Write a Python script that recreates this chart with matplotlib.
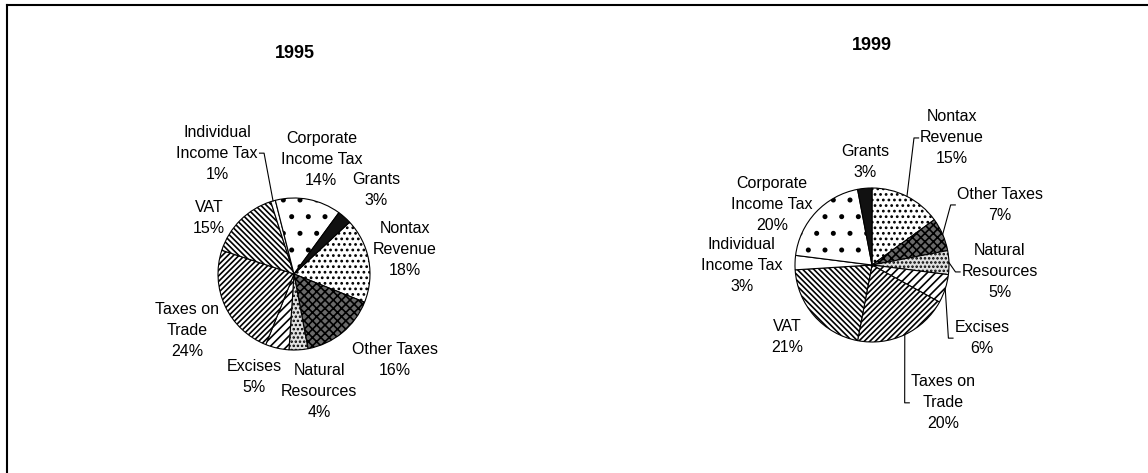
import matplotlib
matplotlib.use("Agg")
import matplotlib.pyplot as plt
import numpy as np

plt.rcParams['font.family'] = ['Liberation Sans', 'DejaVu Sans']
plt.rcParams['hatch.linewidth'] = 1.2
plt.rcParams['hatch.color'] = 'black'

# data (clockwise order as drawn)
categories = ['Nontax\nRevenue', 'Other Taxes', 'Natural\nResources', 'Excises',
              'Taxes on\nTrade', 'VAT', 'Individual\nIncome Tax',
              'Corporate\nIncome Tax', 'Grants']
share_1995 = [18, 16, 4, 5, 24, 15, 1, 14, 3]
share_1999 = [15, 7, 5, 6, 20, 21, 3, 20, 3]

# styling per category
faces = ['white', '#6a6a6a', '#e0e0e0', 'white', 'white', 'white', 'white', 'white', '#111111']
hatches = ['...', 'xxxx', '....', '////', '//////', '\\\\\\\\\\\\', '', '.', '']

W, H = 1148, 473
fig = plt.figure(figsize=(W / 100, H / 100), dpi=100)

# outer frame (top and left edges visible)
fig.add_artist(plt.Line2D([7 / W, 1], [1 - 5 / H, 1 - 5 / H], color='black', lw=1.5))
fig.add_artist(plt.Line2D([7 / W, 7 / W], [0, 1 - 5 / H], color='black', lw=1.5))

SPAN = 2.3


def make_axes(cx, cy, r):
    size = 2 * SPAN * r
    ax = fig.add_axes([(cx - SPAN * r) / W, 1 - (cy + SPAN * r) / H, size / W, size / H])
    return ax


def draw_pie(ax, values, start, label_pos, leaders, side):
    wedges, _ = ax.pie(values, startangle=start, counterclock=False, radius=1,
                       colors=faces, wedgeprops=dict(edgecolor='black', linewidth=0.8))
    ax.set_xlim(-SPAN, SPAN)
    ax.set_ylim(-SPAN, SPAN)
    ax.set_aspect('equal')
    ax.axis('off')
    for w, h in zip(wedges, hatches):
        w.set_hatch(h)
    texts = []
    for cat, v, (tx, ty) in zip(categories, values, label_pos):
        t = ax.text(tx, ty, f'{cat}\n{v}%', ha='center', va='center',
                    fontsize=11.5, linespacing=1.5)
        texts.append(t)
    fig.canvas.draw()
    inv = ax.transData.inverted()
    for i in leaders:
        w = wedges[i]
        mid = np.deg2rad((w.theta1 + w.theta2) / 2)
        ex, ey = np.cos(mid), np.sin(mid)
        bb = texts[i].get_window_extent()
        (x0, y0), (x1, y1) = inv.transform([[bb.x0, bb.y0], [bb.x1, bb.y1]])
        yc = (y0 + y1) / 2
        if side[i] == 'right':
            xa, xk = x1 + 0.02, x1 + 0.08
        else:
            xa, xk = x0 - 0.02, x0 - 0.08
        ax.plot([xa, xk, ex], [yc, yc, ey], color='black', lw=0.8)


# 1995
ax1 = make_axes(294, 274, 76)
pos_1995 = [(1.46, 0.32), (1.33, -1.13), (0.33, -1.55), (-0.52, -1.36),
            (-1.41, -0.74), (-1.12, 0.74), (-1.01, 1.59), (0.36, 1.50), (1.08, 1.11)]
draw_pie(ax1, share_1995, 43, pos_1995, [6], {6: 'right'})
fig.text(295 / W, 1 - 53 / H, '1995', ha='center', va='center', fontsize=13, fontweight='bold')

# 1999
ax2 = make_axes(872, 265, 77)
pos_1999 = [(1.04, 1.65), (1.66, 0.78), (1.66, -0.09), (1.43, -0.95),
            (0.92, -1.79), (-1.10, -0.94), (-1.69, -0.01), (-1.30, 0.79), (-0.09, 1.34)]
draw_pie(ax2, share_1999, 90, pos_1999, [0, 1, 2, 3, 4],
         {0: 'left', 1: 'left', 2: 'left', 3: 'left', 4: 'left'})
fig.text(872 / W, 1 - 45 / H, '1999', ha='center', va='center', fontsize=13, fontweight='bold')

fig.savefig('out.png', dpi=100)
